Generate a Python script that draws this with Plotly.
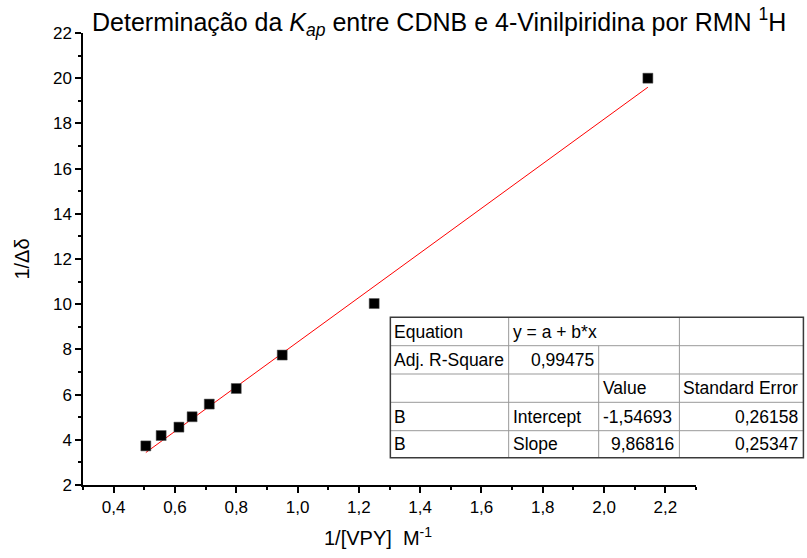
import plotly.graph_objects as go

# ---- data ----
inv_vpy = [0.505, 0.555, 0.613, 0.656, 0.712, 0.800, 0.950, 1.250, 2.143]
inv_delta = [3.73, 4.19, 4.56, 5.02, 5.58, 6.27, 7.75, 10.03, 20.0]
fit_intercept = -1.54693
fit_slope = 9.86816
x_ticks = [0.4, 0.6, 0.8, 1.0, 1.2, 1.4, 1.6, 1.8, 2.0, 2.2]
y_ticks = [2, 4, 6, 8, 10, 12, 14, 16, 18, 20, 22]
table_rows = [
    ["Equation", "y = a + b*x", "", ""],
    ["Adj. R-Square", "0,99475", "", ""],
    ["", "", "Value", "Standard Error"],
    ["B", "Intercept", "-1,54693", "0,26158"],
    ["B", "Slope", "9,86816", "0,25347"],
]

# ---- layout geometry (pixels) ----
W, H = 807, 558
L, R, T, B = 82.7, 695.6, 33, 485
PW, PH = R - L, B - T

def px(x):
    return (x - L) / PW

def py(y):
    return (B - y) / PH

FONT = "Liberation Sans, Arial, sans-serif"

fig = go.Figure()
xfit = [min(inv_vpy), max(inv_vpy)]
yfit = [fit_intercept + fit_slope * v for v in xfit]
fig.add_trace(go.Scatter(x=xfit, y=yfit, mode="lines",
                         line=dict(color="#ff0000", width=1), showlegend=False))
fig.add_trace(go.Scatter(x=inv_vpy, y=inv_delta, mode="markers",
                         marker=dict(symbol="square", size=10, color="black",
                                     line=dict(color="#555", width=0.5)),
                         showlegend=False))

axis_common = dict(showline=True, linecolor="black", linewidth=1.5, mirror=False,
                   ticks="outside", ticklen=6, tickwidth=1.5, tickcolor="black",
                   showgrid=False, zeroline=False,
                   tickfont=dict(family=FONT, size=17, color="black"))

fig.update_layout(
    width=W, height=H, autosize=False,
    margin=dict(l=L, r=W - R, t=T, b=H - B, pad=0),
    paper_bgcolor="white", plot_bgcolor="white",
    separators=",.",
    font=dict(family=FONT, color="black"),
    xaxis=dict(range=[0.3, 2.3], tickvals=x_ticks, tickformat=".1f",
               minor=dict(dtick=0.1, tick0=0.3, ticks="outside", ticklen=3, tickwidth=1.5, tickcolor="black"),
               **axis_common),
    yaxis=dict(range=[2, 22], tickvals=y_ticks,
               minor=dict(dtick=1, tick0=1, ticks="outside", ticklen=3, tickwidth=1.5, tickcolor="black"),
               title=dict(text="1/Δδ", font=dict(family=FONT, size=20), standoff=18),
               **axis_common),
)

# X axis title
fig.add_annotation(text="1/[VPY]  M<sup>-1</sup>", xref="paper", yref="paper",
                   x=px(378), y=py(536), xanchor="center", yanchor="middle", showarrow=False,
                   font=dict(family=FONT, size=20, color="black"))

# Title
fig.add_annotation(text="Determinação da <i>K</i><sub><i>ap</i></sub> entre CDNB e 4-Vinilpiridina por RMN <sup>1</sup>H",
                   xref="paper", yref="paper", x=px(439), y=py(22), xanchor="center", yanchor="middle",
                   showarrow=False, font=dict(family=FONT, size=25, color="black"))

# Table
tx0, tx1 = 390, 803
row_y = [317.3, 345.7, 374, 402.3, 430.7, 457.7]
col_x = [390, 508.3, 598.3, 679, 803]
shapes = []
inner = dict(color="#999999", width=1)
for yy in row_y[1:-1]:
    shapes.append(dict(type="line", xref="paper", yref="paper", x0=px(tx0), x1=px(tx1), y0=py(yy), y1=py(yy), line=inner))
for ci, cx in enumerate(col_x[1:-1], start=1):
    top = row_y[0] if ci != 2 else row_y[1]
    shapes.append(dict(type="line", xref="paper", yref="paper", x0=px(cx), x1=px(cx), y0=py(top), y1=py(row_y[-1]), line=inner))
shapes.append(dict(type="rect", xref="paper", yref="paper", x0=px(tx0), x1=px(tx1), y0=py(row_y[0]), y1=py(row_y[-1]),
                   line=dict(color="#3a3a3a", width=1.5)))
fig.update_layout(shapes=shapes)

align = [
    ["l", "l", "l", "l"],
    ["l", "r", "l", "l"],
    ["l", "l", "l", "l"],
    ["l", "l", "l", "r"],
    ["l", "l", "r", "r"],
]
for ri, row in enumerate(table_rows):
    yc = (row_y[ri] + row_y[ri + 1]) / 2
    for ci, txt in enumerate(row):
        if not txt:
            continue
        if align[ri][ci] == "l":
            xx, anc = col_x[ci] + 2, "left"
        else:
            xx, anc = col_x[ci + 1] - 3, "right"
        fig.add_annotation(text=txt, xref="paper", yref="paper", x=px(xx), y=py(yc),
                           xanchor=anc, yanchor="middle", showarrow=False,
                           font=dict(family=FONT, size=17.5, color="black"))

fig.write_html("out.html")
